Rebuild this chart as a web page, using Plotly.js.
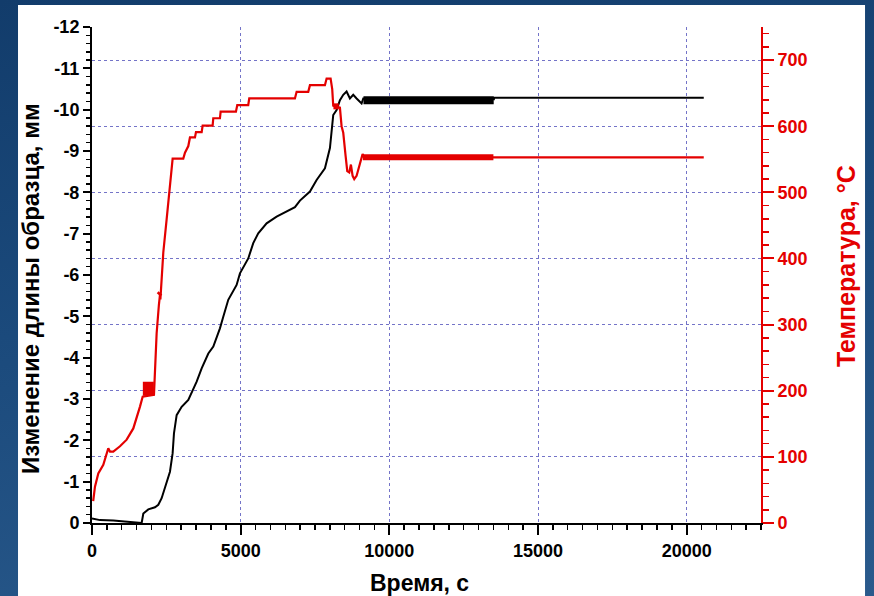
<!DOCTYPE html>
<html>
<head>
<meta charset="utf-8">
<script src="https://cdn.plot.ly/plotly-3.0.1.min.js"></script>
<style>
  html, body { margin: 0; padding: 0; }
  body { width: 874px; height: 596px; overflow: hidden;
         background: linear-gradient(170deg, #123c6b 0%, #1b4a7c 45%, #2a5a8c 100%); }
  #chart { width: 874px; height: 596px; }
</style>
</head>
<body>
<div id="chart"></div>
<script>
// ---- Data ----
// Black: specimen length change, mm (left axis)
const timeLen = [0, 270, 716, 1100, 1502, 1670, 1726, 1894, 2118, 2230, 2342, 2510, 2622, 2712, 2757, 2847,
  3015, 3239, 3520, 3688, 3912, 4080, 4303, 4415, 4583, 4864, 4976, 5255, 5423, 5591, 5873, 6209, 6546,
  6825, 6993, 7330, 7554, 7834, 8002, 8079, 8113, 8226, 8338, 8450, 8562, 8674, 8786, 8899, 9067, 9123,
  13515, 13520, 20575];
const lenMm = [-0.11, -0.07, -0.06, -0.04, -0.02, 0, -0.23, -0.33, -0.38, -0.44, -0.6, -1.0, -1.24, -1.69, -2.17, -2.61,
  -2.81, -2.98, -3.42, -3.74, -4.1, -4.27, -4.71, -4.99, -5.4, -5.76, -6.04, -6.4, -6.77, -7.01, -7.25, -7.41, -7.53,
  -7.64, -7.8, -8.02, -8.3, -8.58, -9.07, -9.59, -9.87, -9.99, -10.23, -10.36, -10.44, -10.27, -10.36, -10.27, -10.15, -10.27,
  -10.25, -10.29, -10.29];
// noisy (oscillating) segment of the length signal
const lenNoiseTime = [9130, 13510];
const lenNoiseVal = [-10.23, -10.23];

// Red: temperature, °C (right axis)
const timeTemp = [40, 100, 212, 380, 548, 605, 716, 941, 1166, 1389, 1614, 1704, 2084, 2174, 2250, 2286, 2300,
  2398, 2510, 2622, 2712, 3070, 3127, 3239, 3295, 3463, 3497, 3688, 3721, 4057, 4079, 4303, 4326, 4841, 4886,
  5255, 5289, 6825, 6882, 7273, 7330, 7834, 7890, 8025, 8079, 8113, 8338, 8394, 8450, 8529, 8585, 8652, 8708,
  8765, 8820, 8899, 8955, 9011, 9101, 9150, 13500, 20575];
const tempC = [33, 55, 75, 88, 113, 108, 108, 116, 126, 143, 176, 191, 194, 287, 330, 345, 338,
  409, 459, 509, 551, 551, 560, 570, 583, 583, 591, 591, 601, 601, 612, 612, 622, 622, 632,
  632, 642, 642, 652, 652, 662, 662, 672, 672, 656, 631, 628, 600, 590, 555, 532, 530, 542,
  525, 520, 525, 535, 542, 558, 553, 553, 553];
// noisy segments of the temperature signal
const tempNoise1Time = [1710, 2080];
const tempNoise1Val = [203, 203];
const tempNoise2Time = [8120, 8300];
const tempNoise2Val = [630, 630];
const tempNoise3Time = [9110, 13500];
const tempNoise3Val = [553, 553];
const tempNoise4Time = [2240, 2300];
const tempNoise4Val = [345, 348];

// Axis ticks and titles
const xTickVals = [0, 5000, 10000, 15000, 20000];
const xTickText = ['0', '5000', '10000', '15000', '20000'];
const lenTickVals = [0, -1, -2, -3, -4, -5, -6, -7, -8, -9, -10, -11, -12];
const lenTickText = ['0', '-1', '-2', '-3', '-4', '-5', '-6', '-7', '-8', '-9', '-10', '-11', '-12'];
const tempTickVals = [0, 100, 200, 300, 400, 500, 600, 700];
const xTitle = 'Время, с';
const lenTitle = 'Изменение длины образца, мм';
const tempTitle = 'Температура, °C';

// ---- Styling ----
const RED = '#e40000';
const GRID = '#7474c8';
const FONT = 'Liberation Sans, Arial, sans-serif';

const traces = [
  { x: timeTemp, y: tempC, yaxis: 'y2', mode: 'lines', line: { color: RED, width: 2.2 }, showlegend: false },
  { x: tempNoise1Time, y: tempNoise1Val, yaxis: 'y2', mode: 'lines', line: { color: RED, width: 14 }, showlegend: false },
  { x: tempNoise2Time, y: tempNoise2Val, yaxis: 'y2', mode: 'lines', line: { color: RED, width: 6 }, showlegend: false },
  { x: tempNoise3Time, y: tempNoise3Val, yaxis: 'y2', mode: 'lines', line: { color: RED, width: 6 }, showlegend: false },
  { x: tempNoise4Time, y: tempNoise4Val, yaxis: 'y2', mode: 'lines', line: { color: RED, width: 5 }, showlegend: false },
  { x: timeLen, y: lenMm, yaxis: 'y', mode: 'lines', line: { color: '#000000', width: 2 }, showlegend: false },
  { x: lenNoiseTime, y: lenNoiseVal, yaxis: 'y', mode: 'lines', line: { color: '#000000', width: 8 }, showlegend: false }
];

const layout = {
  width: 874, height: 596,
  margin: { l: 92, r: 113, t: 27, b: 73, pad: 0 },
  paper_bgcolor: 'rgba(0,0,0,0)',
  plot_bgcolor: 'rgba(0,0,0,0)',
  showlegend: false,
  shapes: [
    { type: 'rect', xref: 'paper', yref: 'paper', layer: 'below',
      x0: -0.1106, x1: 1.1555, y0: -0.16, y1: 1.0444,
      fillcolor: '#ffffff', line: { width: 0 } }
  ],
  annotations: [
    { text: xTitle, xref: 'paper', yref: 'paper', x: 0.4888, y: -0.121, xanchor: 'center', yanchor: 'middle',
      showarrow: false, font: { family: FONT, size: 23, color: '#000', weight: 'bold' } },
    { text: lenTitle, xref: 'paper', yref: 'paper', x: -0.0912, y: 0.4738, xanchor: 'center', yanchor: 'middle',
      textangle: -90, showarrow: false, font: { family: FONT, size: 24, color: '#000', weight: 'bold' } },
    { text: tempTitle, xref: 'paper', yref: 'paper', x: 1.127, y: 0.518, xanchor: 'center', yanchor: 'middle',
      textangle: -90, showarrow: false, font: { family: FONT, size: 25, color: RED, weight: 'bold' } }
  ],
  xaxis: {
    range: [0, 22500],
    tickmode: 'array', tickvals: xTickVals, ticktext: xTickText,
    ticks: 'outside', ticklen: 10, tickwidth: 2, tickcolor: '#000',
    showline: true, linecolor: '#000', linewidth: 2,
    showgrid: true, gridcolor: GRID, griddash: 'dot', gridwidth: 1,
    zeroline: false,
    minor: { dtick: 500, tick0: 0, ticks: 'outside', ticklen: 5, tickwidth: 1.5, tickcolor: '#000', showgrid: false },
    tickfont: { family: FONT, size: 18, color: '#000', weight: 'bold' }
  },
  yaxis: {
    range: [0, -12],
    tickmode: 'array', tickvals: lenTickVals, ticktext: lenTickText,
    ticks: 'outside', ticklen: 7, tickwidth: 2, tickcolor: '#000',
    showline: true, linecolor: '#000', linewidth: 2,
    showgrid: false, zeroline: false,
    minor: { dtick: 0.2, tick0: 0, ticks: 'outside', ticklen: 4, tickwidth: 1.5, tickcolor: '#000', showgrid: false },
    tickfont: { family: FONT, size: 18, color: '#000', weight: 'bold' }
  },
  yaxis2: {
    range: [0, 750], overlaying: 'y', side: 'right', anchor: 'x',
    tickmode: 'array', tickvals: tempTickVals,
    ticks: 'outside', ticklen: 11, tickwidth: 2, tickcolor: RED,
    showline: true, linecolor: RED, linewidth: 2,
    showgrid: true, gridcolor: GRID, griddash: 'dot', gridwidth: 1,
    zeroline: false,
    minor: { dtick: 20, tick0: 0, ticks: 'outside', ticklen: 6, tickwidth: 1.5, tickcolor: RED, showgrid: false },
    tickfont: { family: FONT, size: 18, color: RED, weight: 'bold' }
  }
};

Plotly.newPlot('chart', traces, layout, { staticPlot: true, displayModeBar: false });
</script>
</body>
</html>
